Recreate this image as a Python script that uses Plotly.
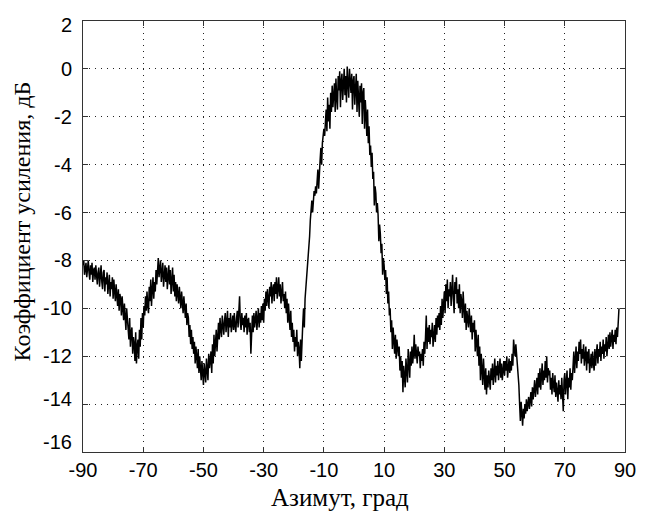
import plotly.graph_objects as go

# Gain, dB. Each block covers 5 degrees of azimuth,
# sampled every 0.25 degree, starting at the block's first azimuth.
az_step = 0.25
block_start = [-90, -85, -80, -75, -70, -65, -60, -55, -50, -45, -40, -35, -30, -25,
               -20, -15, -10, -5, 0, 5, 10, 15, 20, 25, 30, 35, 40, 45, 50, 55,
               60, 65, 70, 75, 80, 85]
gain_blocks = [
    [-8.2, -8.0, -8.6, -8.3, -8.1, -8.7, -8.4, -8.0, -8.5, -8.8, -8.2, -8.6, -8.1, -8.9, -8.4, -8.3, -8.8, -8.2, -8.6, -9.0],
    [-8.5, -8.3, -9.1, -8.6, -8.2, -8.9, -9.2, -8.5, -8.4, -9.3, -8.7, -9.0, -8.5, -9.4, -8.8, -8.6, -9.5, -8.9, -9.2, -8.7],
    [-9.6, -8.8, -9.3, -9.7, -9.0, -9.5, -9.9, -9.2, -10.1, -9.4, -9.6, -10.3, -9.5, -10.0, -10.5, -9.8, -10.2, -10.9, -10.0, -10.6],
    [-10.7, -11.3, -10.4, -11.6, -11.0, -10.8, -11.9, -11.2, -11.5, -12.2, -11.0, -12.3, -11.6, -11.3, -12.1, -10.9, -11.6, -10.4, -11.3, -10.2],
    [-10.8, -9.9, -10.3, -9.5, -10.1, -9.3, -9.9, -10.2, -9.1, -9.7, -8.8, -9.9, -9.2, -8.7, -9.6, -8.9, -9.3, -8.4, -9.0, -8.2],
    [-7.9, -8.7, -8.3, -8.0, -8.9, -8.4, -8.1, -9.1, -8.5, -8.2, -8.9, -8.3, -9.2, -8.6, -8.2, -9.0, -8.4, -9.4, -8.7, -8.3],
    [-9.3, -8.6, -9.5, -8.9, -9.7, -9.0, -9.4, -9.8, -9.1, -9.6, -10.0, -9.3, -9.9, -10.2, -9.5, -10.1, -10.4, -9.8, -10.7, -10.2],
    [-10.4, -11.2, -10.7, -11.5, -10.9, -11.7, -11.2, -11.9, -11.4, -12.3, -11.6, -12.0, -12.5, -11.7, -12.7, -12.0, -12.4, -13.0, -12.2, -12.8],
    [-13.2, -12.3, -12.8, -13.1, -12.1, -12.6, -13.0, -11.9, -12.5, -12.2, -11.8, -12.7, -11.5, -12.3, -11.1, -12.0, -11.4, -10.9, -11.8, -11.0],
    [-10.6, -11.3, -10.4, -10.9, -11.2, -10.3, -10.8, -11.1, -10.5, -10.2, -11.0, -10.6, -10.1, -11.2, -10.4, -10.8, -10.2, -11.0, -10.5, -10.3],
    [-10.9, -10.2, -10.7, -11.0, -10.4, -10.1, -10.8, -10.3, -9.5, -10.6, -10.9, -10.2, -10.7, -10.4, -11.0, -10.3, -10.8, -10.2, -11.1, -10.5],
    [-10.4, -11.0, -10.6, -11.9, -10.5, -10.3, -11.0, -10.2, -10.8, -10.4, -10.1, -10.9, -10.3, -10.0, -10.8, -10.2, -10.6, -9.9, -10.5, -9.8],
    [-10.6, -9.6, -10.1, -9.3, -9.9, -9.2, -9.6, -10.0, -9.1, -9.5, -8.9, -9.8, -9.2, -9.0, -9.7, -8.9, -9.4, -8.7, -9.6, -9.0],
    [-8.7, -9.5, -9.0, -9.8, -9.2, -8.9, -9.7, -9.4, -10.0, -9.3, -10.2, -9.6, -10.6, -9.8, -10.4, -10.9, -10.1, -11.2, -10.6, -11.4],
    [-10.9, -11.8, -11.2, -11.6, -10.9, -12.0, -11.4, -11.7, -12.5, -11.3, -12.2, -11.0, -10.6, -10.0, -10.8, -9.6, -9.2, -8.8, -8.3, -7.8],
    [-7.4, -7.0, -6.3, -5.9, -5.5, -6.0, -5.3, -5.1, -5.3, -4.9, -5.2, -4.5, -4.2, -5.0, -4.1, -3.8, -3.3, -4.0, -3.1, -2.7],
    [-2.5, -2.8, -2.4, -1.7, -2.6, -1.2, -2.2, -1.5, -2.5, -1.0, -1.8, -0.7, -1.6, -1.1, -0.6, -1.8, -0.4, -1.2, -1.7, -0.3],
    [-0.9, -0.1, -1.6, -0.5, -0.2, -1.3, -0.4, 0.0, -1.1, -0.3, -1.4, 0.1, -0.6, -1.2, 0.0, -0.4, -1.0, -0.2, -1.7, -0.5],
    [-0.3, -1.5, -0.6, -0.2, -1.8, -0.5, -1.2, -2.0, -0.7, -1.4, -0.6, -2.3, -1.0, -0.8, -2.5, -1.3, -1.9, -2.8, -1.7, -3.1],
    [-2.4, -3.6, -3.2, -4.1, -3.5, -4.6, -4.3, -5.7, -4.9, -5.2, -6.0, -5.6, -6.1, -7.2, -6.5, -6.9, -7.7, -7.3, -8.6, -7.9],
    [-8.2, -8.8, -8.4, -9.4, -8.7, -9.8, -9.3, -10.3, -10.0, -11.0, -10.5, -11.7, -10.8, -11.4, -11.9, -11.1, -12.1, -11.3, -11.7, -12.0],
    [-11.6, -12.6, -12.0, -12.9, -12.2, -13.5, -12.4, -12.8, -13.3, -12.1, -12.7, -13.1, -11.7, -12.5, -12.9, -11.8, -12.4, -11.6, -12.3, -11.9],
    [-11.1, -12.1, -11.5, -11.9, -12.3, -11.6, -12.0, -11.8, -12.5, -11.9, -12.2, -11.7, -12.4, -11.4, -11.9, -11.2, -10.3, -11.7, -10.8, -11.4],
    [-10.7, -11.5, -10.9, -11.2, -10.6, -11.6, -11.0, -10.7, -11.4, -10.4, -11.1, -10.3, -10.8, -10.2, -10.9, -9.9, -10.7, -9.6, -10.4, -9.8],
    [-9.3, -10.2, -9.0, -9.7, -8.8, -10.0, -9.2, -9.5, -8.9, -9.9, -9.1, -8.6, -9.6, -10.2, -8.9, -9.4, -8.7, -9.8, -9.2, -10.0],
    [-9.0, -10.2, -9.4, -9.7, -10.4, -9.3, -10.0, -10.6, -9.8, -10.9, -10.1, -10.4, -10.8, -10.0, -10.7, -11.0, -10.3, -11.3, -10.6, -11.0],
    [-10.5, -11.8, -10.9, -11.4, -12.0, -11.1, -12.4, -11.6, -13.0, -11.9, -12.5, -13.2, -12.1, -12.9, -13.4, -12.5, -13.6, -12.8, -13.3, -12.6],
    [-12.9, -13.4, -12.5, -13.0, -12.3, -13.2, -12.7, -12.1, -13.1, -12.4, -12.8, -12.2, -13.0, -12.5, -12.1, -12.9, -12.3, -13.0, -12.4, -12.2],
    [-12.8, -12.2, -12.6, -12.0, -12.9, -12.3, -12.1, -12.7, -12.2, -12.6, -11.9, -12.4, -11.3, -11.7, -12.0, -11.5, -11.9, -12.3, -12.5, -13.2],
    [-14.0, -14.7, -13.9, -14.5, -14.9, -14.2, -14.6, -14.0, -14.4, -13.8, -14.3, -14.0, -13.7, -14.2, -13.9, -13.5, -14.1, -13.3, -13.8, -13.4],
    [-13.0, -13.7, -13.2, -12.9, -13.6, -12.7, -13.3, -12.5, -13.4, -12.8, -12.3, -13.2, -12.6, -13.0, -12.2, -12.9, -12.0, -13.1, -12.5, -12.8],
    [-12.6, -13.4, -12.9, -13.6, -12.7, -13.2, -13.5, -12.8, -13.7, -13.1, -13.4, -13.9, -13.0, -13.6, -13.2, -13.8, -12.9, -13.5, -14.3, -13.0],
    [-12.7, -13.6, -13.0, -12.6, -13.8, -12.9, -13.3, -12.5, -13.4, -12.7, -13.0, -12.2, -11.8, -12.7, -12.0, -11.6, -12.5, -11.8, -12.2, -11.4],
    [-11.9, -11.3, -12.3, -11.7, -12.1, -11.5, -12.4, -11.9, -11.6, -12.6, -11.8, -12.3, -11.7, -12.7, -12.0, -11.9, -12.5, -11.8, -12.3, -12.6],
    [-11.7, -12.4, -11.9, -11.5, -12.3, -11.7, -12.0, -11.4, -12.2, -11.6, -11.9, -11.3, -12.1, -11.5, -11.8, -11.2, -12.0, -11.4, -11.1, -11.7],
    [-11.0, -11.6, -11.2, -10.9, -11.7, -11.1, -11.4, -10.9, -11.5, -10.8, -11.2, -10.4, -10.0],
]

azimuth, gain_db = [], []
for start, vals in zip(block_start, gain_blocks):
    for i, v in enumerate(vals):
        azimuth.append(start + az_step * i)
        gain_db.append(v)

x_ticks = [-90, -70, -50, -30, -10, 10, 30, 50, 70, 90]
y_ticks = [2, 0, -2, -4, -6, -8, -10, -12, -14, -16]
# small vertical nudges (px) of the y tick labels as they sit in the picture
y_label_nudge = [-4, 0, 0, 0, 0, 0, 0, 0, 5, 10]

x_title = "Азимут, град"
y_title = "Коэффициент усиления, дБ"

sans = "Liberation Sans, Arial, sans-serif"
serif = "Liberation Serif, Times New Roman, serif"

fig = go.Figure()
fig.add_trace(go.Scatter(
    x=azimuth, y=gain_db, mode="lines",
    line=dict(color="black", width=1.5),
    showlegend=False, hoverinfo="skip",
))

axis_common = dict(
    showline=True, linecolor="#333", linewidth=1, mirror="ticks",
    ticks="inside", ticklen=5, tickwidth=1, tickcolor="#333",
    showgrid=True, gridcolor="#222", gridwidth=1, griddash="1px,5px",
    zeroline=False,
    tickfont=dict(family=sans, size=20, color="black"),
)

annotations = [
    dict(text=x_title, xref="paper", yref="paper", x=(343 - 83) / 549, y=0, yshift=-30,
         xanchor="center", yanchor="top", showarrow=False,
         font=dict(family=serif, size=25, color="black")),
    dict(text=y_title, xref="paper", yref="paper", x=0, y=0.535, xshift=-61,
         xanchor="center", yanchor="middle", textangle=-90, showarrow=False,
         font=dict(family=serif, size=24, color="black")),
]
for v, nudge in zip(y_ticks, y_label_nudge):
    annotations.append(dict(
        text=str(v), xref="paper", yref="y", x=0, y=v, xshift=-9, yshift=nudge,
        xanchor="right", yanchor="middle", showarrow=False,
        font=dict(family=sans, size=20, color="black")))

fig.update_layout(
    width=648, height=511,
    margin=dict(l=83, r=16, t=21, b=59),
    paper_bgcolor="white", plot_bgcolor="white",
    xaxis=dict(range=[-90, 90], tickvals=x_ticks, ticktext=[str(v) for v in x_ticks], **axis_common),
    yaxis=dict(range=[-16, 2], tickvals=y_ticks, showticklabels=False, **axis_common),
    annotations=annotations,
)

fig.write_html("out.html")
